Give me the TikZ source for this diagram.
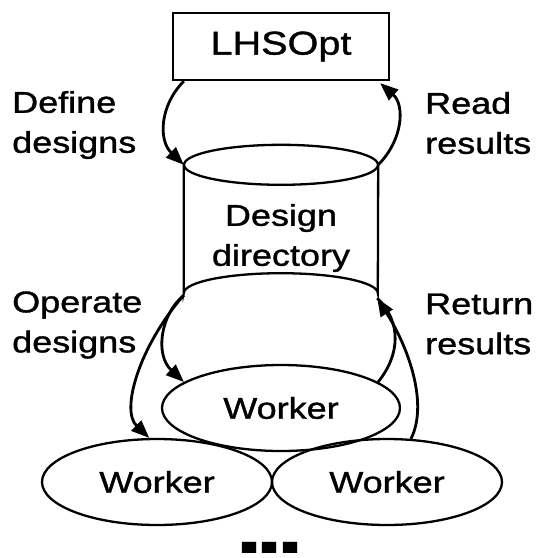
\documentclass[tikz,border=0pt]{standalone}
\usepackage{fontspec}
\setmainfont{Liberation Sans}[FakeStretch=1.2, FakeBold=1.2]
\newfontfamily\dotsfont{Liberation Sans Bold}[FakeStretch=1.35]
\usetikzlibrary{shapes.geometric,arrows.meta,calc}

\tikzset{
  box/.style={draw, line width=2.3pt, rectangle, minimum width=216pt, minimum height=67pt,
    inner sep=0pt, font=\fontsize{33}{40}\selectfont},
  worker/.style={draw, line width=2.3pt, ellipse, inner sep=0pt,
    minimum height=86pt, font=\fontsize{30}{40}\selectfont},
  lbl/.style={align=left, anchor=west, inner sep=0pt, font=\fontsize{30}{40}\selectfont},
  flow/.style={line width=2.8pt, -{Triangle[length=18pt,width=14pt]}},
  plain/.style={line width=2.8pt},
  outline/.style={line width=2.3pt}
}

\begin{document}
\begin{tikzpicture}[x=1pt, y=-1pt]
  \useasboundingbox (0,0) rectangle (542,558);

  % optimizer box
  \node[box] (opt) at (281,46.5) {LHSOpt};

  % design directory drawn as a cylinder
  \node[minimum width=194pt, minimum height=128pt, inner sep=0pt] (dir) at (281,229) {};
  \draw[outline] (dir.north) ellipse [x radius=97pt, y radius=20pt];
  \draw[outline] (dir.north west) -- (dir.south west)
    arc [start angle=180, end angle=360, x radius=97pt, y radius=-20pt]
    -- (dir.north east);
  \node[align=center, inner sep=0pt, font=\fontsize{30}{40}\selectfont] (dirtext) at (281,238) {Design\\directory};

  % workers
  \node[worker, minimum width=238pt] (w1) at (281,408) {Worker};
  \node[worker, minimum width=230pt] (w2) at (157,482) {Worker};
  \node[worker, minimum width=230pt] (w3) at (387,482) {Worker};
  \node[inner sep=0pt, font=\dotsfont\fontsize{75}{80}\selectfont, anchor=base] (more) at (270,553)
    {.\kern-8pt.\kern-8pt.};

  % connection points on the shapes
  \coordinate (optL) at ($(opt.south west)+(12,0)$);
  \coordinate (optR) at ($(opt.south east)+(-10,2)$);
  \coordinate (dirTL) at (dir.north west);
  \coordinate (dirTR) at (dir.north east);
  \coordinate (dirBL) at ($(dir.south west)+(0,2)$);
  \coordinate (dirBR) at ($(dir.south east)+(-1,5)$);

  % arrows between optimizer and directory
  \draw[flow] (optL) .. controls (160,105) and (158,140) .. (dirTL);
  \draw[flow] (dirTR) .. controls (403,140) and (405,105) .. (optR);

  % arrows between directory and workers
  \draw[flow] (dirBL) .. controls (160,315) and (155,355) .. (w1.165);
  \draw[flow] (dirBL) .. controls (140,345) and (120,410) .. (w2.100);
  \draw[plain] (w1.15) .. controls (400,355) and (402,322) .. (dirBR);
  \draw[flow] (w3.61) .. controls (428,405) and (410,350) .. (dirBR);

  % labels
  \node[lbl] (define) at (12,125) {Define\\designs};
  \node[lbl] (read) at (425,123) {Read\\results};
  \node[lbl] (operate) at (12,325) {Operate\\designs};
  \node[lbl] (return) at (425,324) {Return\\results};
\end{tikzpicture}
\end{document}
